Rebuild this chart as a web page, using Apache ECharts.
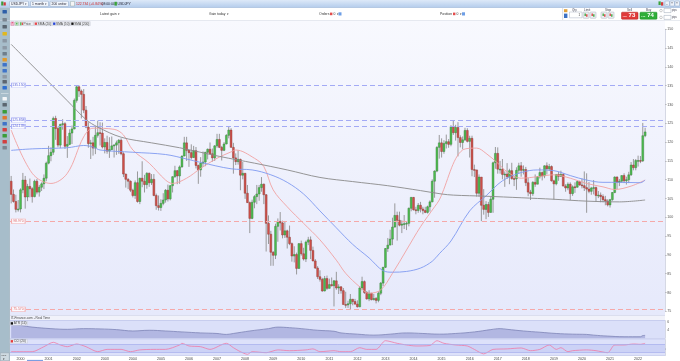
<!DOCTYPE html>
<html><head><meta charset="utf-8">
<script src="https://cdn.jsdelivr.net/npm/echarts/dist/echarts.min.js"></script>
<style>html,body{margin:0;padding:0;background:#fff;overflow:hidden}#c{width:680px;height:361px}</style>
</head><body><div id="c"></div><script>
// ---------- DATA ----------
const firstYear = 1999, firstMonth = 9, monthCount = 280; // Sep 1999 .. Dec 2022 (axis incl. empty space on the right)
const months = [];
for (let i = 0; i < monthCount; i++) {
  const k = firstMonth - 1 + i;
  months.push((firstYear + Math.floor(k / 12)) + '-' + String(k % 12 + 1).padStart(2, '0'));
}
// USD/JPY monthly candles [open, close, low, high], Sep 1999 .. Apr 2022
const candles = [
  [109.6,106.1,103.7,111.0],[106.1,104.2,103.9,107.4],[104.2,102.1,101.3,106.0],[102.1,102.2,101.5,104.6],
  [102.2,107.3,101.3,107.7],[107.3,109.9,106.4,111.8],[109.9,105.4,102.3,111.0],[105.4,108.2,104.3,108.9],[108.2,107.6,105.3,110.3],[107.6,105.5,103.9,108.0],[105.5,109.6,105.3,110.0],[109.6,106.7,106.1,110.2],[106.7,108.0,105.5,108.6],[108.0,108.9,107.0,109.3],[108.9,110.4,107.5,111.4],[110.4,114.4,109.6,114.8],
  [114.4,116.4,114.1,119.0],[116.4,117.3,114.9,118.6],[117.3,126.3,116.6,126.8],[126.3,123.6,120.6,127.0],[123.6,119.2,118.6,124.1],[119.2,124.7,118.4,124.9],[124.7,124.9,123.3,126.1],[124.9,118.9,118.2,125.3],[118.9,119.4,115.8,121.6],[119.4,122.4,119.2,123.4],[122.4,123.5,119.5,124.4],[123.5,131.1,123.4,131.6],
  [131.1,134.7,130.5,135.15],[134.7,133.6,132.0,135.1],[133.6,132.7,126.3,134.0],[132.7,128.5,127.7,134.1],[128.5,124.0,123.7,129.6],[124.0,119.6,118.5,125.3],[119.6,119.8,115.5,120.6],[119.8,118.4,116.4,121.4],[118.4,121.8,116.8,124.2],[121.8,122.5,121.2,125.7],[122.5,122.4,119.1,125.3],[122.4,118.7,118.3,125.2],
  [118.7,119.9,117.0,121.0],[119.9,117.6,116.9,121.7],[117.6,118.0,115.8,121.3],[118.0,119.0,117.9,121.5],[119.0,119.2,115.9,119.5],[119.2,119.8,116.6,120.4],[119.8,120.5,116.9,120.8],[120.5,116.9,116.5,121.0],[116.9,111.5,110.7,117.3],[111.5,110.1,107.9,111.6],[110.1,109.6,107.5,110.4],[109.6,107.2,106.7,109.8],
  [107.2,105.8,105.3,107.6],[105.8,109.2,104.9,109.8],[109.2,104.2,103.9,112.2],[104.2,110.4,103.5,110.5],[110.4,109.6,108.0,114.9],[109.6,108.7,106.6,111.3],[108.7,111.7,107.6,112.0],[111.7,109.2,108.1,111.9],[109.2,110.1,108.6,111.5],[110.1,105.8,105.6,111.5],[105.8,103.1,102.0,106.3],[103.1,102.6,101.8,105.8],
  [102.6,103.7,101.7,104.8],[103.7,104.6,103.2,106.4],[104.6,107.2,103.9,107.5],[107.2,104.9,104.2,108.7],[104.9,108.4,104.5,108.6],[108.4,110.8,106.6,110.9],[110.8,112.4,110.5,113.7],[112.4,111.0,108.8,112.6],[111.0,113.4,108.9,113.8],[113.4,116.3,113.2,116.4],[116.3,119.8,116.2,121.4],[119.8,117.8,115.0,121.4],
  [117.8,117.2,113.4,117.9],[117.2,115.9,115.4,119.4],[115.9,117.7,115.8,119.0],[117.7,113.8,113.0,118.7],[113.8,112.6,108.9,114.0],[112.6,114.4,110.8,116.0],[114.4,114.7,113.4,117.5],[114.7,117.3,113.6,117.4],[117.3,118.1,115.4,118.3],[118.1,116.9,116.7,119.9],[116.9,115.8,114.8,118.3],[115.8,119.0,115.0,119.2],
  [119.0,120.7,118.5,122.2],[120.7,118.6,118.4,122.2],[118.6,117.8,115.1,119.0],[117.8,119.5,117.6,120.0],[119.5,121.8,119.4,122.1],[121.8,123.2,121.0,124.14],[123.2,118.6,118.5,123.7],[118.6,115.8,111.6,119.8],[115.8,114.8,113.9,117.0],[114.8,115.4,114.0,117.8],[115.4,111.2,107.2,115.6],[111.2,111.7,110.1,114.7],
  [111.7,106.4,104.9,111.8],[106.4,103.9,103.8,108.6],[103.9,99.7,95.8,104.2],[99.7,104.0,99.5,104.7],[104.0,105.5,102.4,105.9],[105.5,106.2,103.5,108.6],[106.2,107.9,104.4,108.6],[107.9,108.8,106.8,110.7],[108.8,106.0,103.5,109.0],[106.0,98.4,90.9,106.2],[98.4,95.5,92.9,100.5],[95.5,90.7,87.1,96.4],
  [90.7,89.9,87.1,91.0],[89.9,97.6,88.9,98.3],[97.6,98.9,93.5,99.7],[98.9,98.5,96.5,101.4],[98.5,95.3,94.4,99.1],[95.3,96.4,94.5,98.9],[96.4,94.7,91.7,96.7],[94.7,93.0,92.6,97.8],[93.0,89.7,88.2,93.3],[89.7,90.1,88.0,92.3],[90.1,86.4,84.8,90.6],[86.4,93.0,86.3,93.1],
  [93.0,90.3,89.8,93.8],[90.3,88.9,88.5,91.9],[88.9,93.4,88.1,93.8],[93.4,94.0,92.6,94.8],[94.0,91.2,88.9,94.9],[91.2,88.4,88.3,92.2],[88.4,86.5,86.3,88.9],[86.5,84.2,83.6,87.0],[84.2,83.5,82.9,85.9],[83.5,80.4,80.2,83.9],[80.4,83.7,80.3,84.4],[83.7,81.1,80.7,84.5],
  [81.1,82.1,81.1,83.7],[82.1,81.8,81.6,84.0],[81.8,83.1,76.3,83.3],[83.1,81.2,80.7,85.5],[81.2,81.5,79.6,82.2],[81.5,80.5,79.7,81.7],[80.5,76.8,76.8,81.2],[76.8,76.7,75.9,80.2],[76.7,77.0,75.9,77.8],[77.0,78.2,75.57,79.6],[78.2,77.6,76.6,78.3],[77.6,76.9,76.9,78.3],
  [76.9,76.2,76.0,77.9],[76.2,81.2,76.1,81.7],[81.2,82.9,80.6,84.2],[82.9,80.0,79.6,83.2],[80.0,78.3,78.1,80.4],[78.3,79.8,77.7,80.6],[79.8,78.1,77.9,79.9],[78.1,78.4,77.9,79.6],[78.4,77.9,77.1,78.8],[77.9,79.8,77.4,80.3],[79.8,82.5,79.3,82.8],[82.5,86.7,81.7,86.8],
  [86.7,91.7,86.5,91.8],[91.7,92.6,90.8,94.5],[92.6,94.2,92.6,96.7],[94.2,97.4,92.6,99.9],[97.4,100.5,97.3,103.7],[100.5,99.2,93.8,101.5],[99.2,97.9,97.6,101.5],[97.9,98.2,95.8,99.2],[98.2,98.3,96.9,100.6],[98.3,98.4,96.6,99.0],[98.4,102.4,97.6,102.6],[102.4,105.3,101.6,105.4],
  [105.3,102.0,101.8,105.4],[102.0,101.8,100.8,102.8],[101.8,103.2,101.2,103.8],[103.2,102.2,101.3,104.1],[102.2,101.8,100.8,102.8],[101.8,101.3,101.1,102.8],[101.3,102.8,101.0,103.1],[102.8,104.1,101.5,104.5],[104.1,109.6,104.0,110.1],[109.6,112.3,105.2,112.5],[112.3,118.6,112.0,118.9],[118.6,119.8,115.6,121.9],
  [119.8,117.5,115.9,121.0],[117.5,119.6,116.9,120.5],[119.6,120.1,118.3,122.0],[120.1,119.4,118.5,120.8],[119.4,124.1,118.9,124.5],[124.1,122.5,121.9,125.86],[122.5,123.9,120.4,124.6],[123.9,121.2,116.2,125.3],[121.2,119.9,118.6,121.8],[119.9,120.6,118.1,121.5],[120.6,123.1,120.3,123.8],[123.1,120.2,119.9,123.7],
  [120.2,121.0,115.9,121.7],[121.0,112.7,110.9,121.7],[112.7,112.6,110.7,114.0],[112.6,106.4,105.5,111.9],[106.4,110.7,105.5,111.4],[110.7,103.2,98.97,110.4],[103.2,102.1,100.7,107.5],[102.1,103.4,99.5,104.3],[103.4,101.3,100.1,104.1],[101.3,104.8,101.2,105.5],[104.8,114.5,101.2,114.8],[114.5,117.0,112.9,118.7],
  [117.0,112.8,111.6,118.6],[112.8,112.8,111.6,115.0],[112.8,111.4,110.1,115.5],[111.4,111.5,108.1,112.2],[111.5,110.8,110.2,114.4],[110.8,112.4,108.8,112.9],[112.4,110.3,110.0,114.5],[110.3,110.2,108.3,111.0],[110.2,112.5,107.3,113.3],[112.5,113.7,111.6,114.5],[113.7,112.5,110.8,114.7],[112.5,112.7,111.4,113.8],
  [112.7,109.2,108.3,113.4],[109.2,106.7,105.6,110.5],[106.7,106.3,104.6,107.3],[106.3,109.3,105.7,109.6],[109.3,108.8,108.1,111.4],[108.8,110.8,108.9,110.9],[110.8,111.9,110.3,113.2],[111.9,111.0,109.8,112.2],[111.0,113.7,110.4,113.8],[113.7,112.9,111.4,114.6],[112.9,113.5,112.3,114.2],[113.5,109.7,109.5,113.8],
  [109.7,108.9,104.7,110.0],[108.9,111.4,108.5,111.5],[111.4,110.9,109.7,112.1],[110.9,111.4,110.8,112.4],[111.4,108.3,108.3,111.7],[108.3,107.8,106.8,108.8],[107.8,108.8,107.2,109.3],[108.8,106.3,104.5,109.3],[106.3,108.1,105.7,108.5],[108.1,108.0,106.5,109.3],[108.0,109.5,107.9,109.7],[109.5,108.6,108.4,109.7],
  [108.6,108.4,107.7,110.3],[108.4,107.9,107.0,112.2],[107.9,107.5,101.2,111.7],[107.5,106.9,106.4,109.4],[106.9,107.8,106.0,108.1],[107.8,107.9,106.1,109.9],[107.9,105.8,104.2,108.2],[105.8,105.9,105.1,107.0],[105.9,105.5,104.0,106.6],[105.5,104.7,104.0,106.1],[104.7,104.3,103.2,105.7],[104.3,103.3,102.9,104.8],
  [103.3,104.7,102.6,104.9],[104.7,106.6,104.4,106.7],[106.6,110.7,106.4,110.9],[110.7,109.3,107.5,110.9],[109.3,109.6,108.3,110.2],[109.6,111.1,109.2,111.2],[111.1,109.7,109.1,111.7],[109.7,110.0,108.7,110.8],[110.0,111.3,109.1,112.1],[111.3,113.9,111.0,114.7],[113.9,113.2,112.5,115.5],[113.2,115.1,112.5,115.5],
  [115.1,115.1,113.5,116.4],[115.1,115.0,114.4,116.3],[115.0,121.7,114.7,125.1],[121.7,122.7,121.3,123.8]
];
// moving averages: [monthIndex, value]
const sma20 = [[0,123.2],[9,111.7],[17,109.0],[24,111.7],[31,121.4],[35,123.7],[44,123.4],[48,121.9],[52,117.9],[59,114.4],[66,109.9],[69,109.0],[75,110.4],[81,113.0],[88,115.7],[94,117.4],[96,117.9],[104,115.7],[108,113.5],[112,107.3],[118,102.8],[125,98.4],[132,94.0],[139,88.6],[143,85.1],[149,81.5],[153,79.8],[158,80.7],[163,85.1],[169,91.3],[175,97.5],[181,102.8],[183,104.6],[193,117.9],[199,118.4],[203,117.0],[208,114.4],[212,112.1],[218,110.4],[225,110.8],[232,111.3],[239,110.4],[246,109.0],[253,108.1],[258,107.4],[265,108.3],[271,109.9]];
const sma50 = [[0,117.8],[9,118.2],[24,118.5],[31,119.1],[35,118.7],[38,117.9],[52,117.3],[66,116.7],[75,115.5],[81,114.6],[94,112.9],[103,112.6],[111,111.3],[118,109.3],[125,106.2],[132,101.7],[139,97.2],[146,92.8],[153,89.2],[159,85.8],[163,85.4],[169,85.6],[175,86.5],[180,88.3],[183,90.3],[188,93.7],[196,101.7],[203,105.7],[210,109.7],[218,111.9],[225,112.6],[232,112.4],[239,111.1],[246,109.9],[253,109.3],[260,109.3],[269,109.2],[271,109.9]];
const sma200 = [[0,146.0],[8,141.0],[16,136.0],[24,131.0],[32,126.0],[37,124.0],[47,121.3],[60,119.8],[72,118.5],[89,116.2],[104,114.4],[118,112.6],[132,110.6],[146,109.5],[161,108.4],[175,107.1],[184,106.2],[189,105.9],[203,105.6],[218,105.2],[232,104.8],[246,104.3],[260,104.1],[271,104.6]];
const atr14 = [[0,5.36],[4,5.12],[9,4.72],[17,4.35],[24,4.18],[31,4.35],[38,4.28],[45,4.11],[52,3.78],[59,3.95],[66,3.78],[73,3.55],[81,3.31],[88,3.17],[92,2.94],[95,3.17],[102,3.78],[110,4.35],[114,4.72],[119,4.58],[124,4.35],[131,3.95],[138,3.71],[141,3.31],[148,3.01],[155,2.77],[162,3.01],[169,3.31],[176,3.17],[183,3.01],[190,3.17],[198,3.55],[205,4.11],[209,4.35],[212,4.18],[219,3.78],[226,3.48],[233,3.17],[240,3.01],[246,2.94],[249,2.77],[255,2.54],[262,2.38],[269,2.38],[270,2.66],[271,2.70]];
const cci20 = [[0,-85],[9,-85],[14,40],[18,150],[21,83],[24,40],[28,108],[32,40],[37,-85],[41,-27],[47,-27],[51,-85],[55,-40],[61,-27],[66,-27],[72,83],[73,125],[76,58],[81,40],[85,-27],[92,125],[95,15],[98,-85],[101,-150],[103,-85],[109,-110],[114,-40],[119,-60],[126,-40],[129,-15],[132,-85],[138,-60],[141,-85],[145,-85],[149,15],[152,-27],[156,-27],[160,190],[165,125],[169,83],[173,58],[179,70],[182,190],[185,125],[190,83],[195,58],[198,-27],[202,-140],[206,-27],[212,-15],[218,8],[222,-60],[226,-27],[230,83],[233,-27],[235,15],[238,-85],[240,-60],[246,-40],[250,-60],[255,-110],[258,83],[262,83],[266,108],[269,100],[271,125]];
const resistanceLevels = [135.150, 125.858, 124.139];
const supportLevels = [98.970, 75.570];
const priceTicks = {min: 75, max: 150, step: 5};
const lastValues = {bid: 122.734, mark: 123.65, sma50: 109.902, sma200: 104.604, atr: 2.7716, cci: 120.14};

// ---------- CHART ----------
const FONT = '"Liberation Sans", Arial, sans-serif';
const G = echarts.graphic;
const chart = echarts.init(document.getElementById('c'), null, {renderer: 'canvas'});
const GL = 10, GR = 15;

function renderCandle(params, api) {
  const i = api.value(0), o = api.value(1), c = api.value(2), l = api.value(3), h = api.value(4);
  const pO = api.coord([i, o]), pC = api.coord([i, c]);
  const pL = api.coord([i, Math.min(l, o, c)]), pH = api.coord([i, Math.max(h, o, c)]);
  const w = api.size([1, 0])[0] * 0.8;
  const up = c >= o, x = pO[0];
  const top = Math.min(pO[1], pC[1]), bot = Math.max(pO[1], pC[1]);
  return {type: 'group', children: [
    {type: 'line', shape: {x1: x, y1: pH[1], x2: x, y2: pL[1]}, style: {stroke: '#8e8e8e', lineWidth: 0.9}},
    {type: 'rect', shape: {x: x - w / 2, y: top, width: w, height: Math.max(bot - top, 0.8)},
     style: {fill: up ? '#4cbf4f' : '#d2504a', stroke: up ? '#3a7d3c' : '#8a3a35', lineWidth: 0.45}}
  ]};
}

function lvlLine(v, col) { return {yAxis: v, lineStyle: {color: col, type: [5, 3], width: 1}}; }
function lvlTag(v, col, txtCol) {
  return {coord: [0, v], name: v.toFixed(3), symbol: 'rect', symbolSize: [13.5, 4.6], symbolOffset: [7.2, 0],
    itemStyle: {color: '#fbfbff', borderColor: col, borderWidth: 0.6},
    label: {show: true, position: 'inside', formatter: '{b}', fontSize: 3.4, color: txtCol, fontFamily: FONT}};
}
function endTag(v, text, bg, fg) {
  return {yAxis: v, lineStyle: {opacity: 0}, label: {show: true, position: 'end', distance: 1.2, formatter: text,
    backgroundColor: bg, color: fg, fontSize: 3.6, padding: [0.6, 1], fontFamily: FONT}};
}
const blueL = '#a3aaf5', redL = '#f5a9a9';

function txt(x, y, s, size, fill, extra) {
  return Object.assign({type: 'text', x: x, y: y, z: 100, silent: true,
    style: {text: s, fill: fill || '#333', font: (size || 3.6) + 'px ' + FONT, verticalAlign: 'middle', textVerticalAlign: 'middle'}}, extra || {});
}
function box(x, y, w, h, fill, stroke, z, r) {
  return {type: 'rect', z: z == null ? 100 : z, silent: true, shape: {x: x, y: y, width: w, height: h, r: r || 0},
    style: {fill: fill, stroke: stroke || null, lineWidth: 0.5}};
}
const graphics = [];
// backgrounds
graphics.push(box(GL, 20, 680 - GL - GR, 295, new G.LinearGradient(0, 0, 0, 1, [{offset: 0, color: '#f8f9fe'}, {offset: 1, color: '#e6e9fb'}]), null, -10));
graphics.push(box(GL, 315, 680 - GL - GR, 5, '#f1f2fa', null, -10));
graphics.push(box(GL, 320, 680 - GL - GR, 18.8, '#dbe0f9', null, -10));
graphics.push(box(GL, 338.8, 680 - GL - GR, 16.9, '#dde1fa', null, -10));
graphics.push(box(GL, 315, 655, 0.6, '#c5cae2', null, -9));
graphics.push(box(GL, 320, 655, 0.6, '#b3bae3', null, -9));
graphics.push(box(GL, 338.6, 655, 0.6, '#b9bfe6', null, -9));
graphics.push(box(GL, 355.6, 655, 0.5, '#b9bfe6', null, -9));
// right axis column
graphics.push(box(665, 20, 15, 341, '#ffffff', null, -10));
// top toolbar
graphics.push(box(0, 0, 680, 7.6, new G.LinearGradient(0, 0, 0, 1, [{offset: 0, color: '#dde9f8'}, {offset: 1, color: '#b4ccec'}])));
graphics.push(box(0, 7.4, 680, 0.5, '#8fabd2'));
graphics.push(box(1.2, 1.5, 2.2, 4, '#3c9c3c'), box(3.6, 2.3, 2.2, 3.2, '#d23c3c'));
[[9.5, 19, 'USDJPY'], [30.5, 18, '1 month'], [50, 18.5, '200 units']].forEach(function (b) {
  graphics.push(box(b[0], 1.2, b[1], 5.2, '#f2f6fc', '#8ea6c6', 100, 0.8));
  graphics.push(txt(b[0] + 1.5, 3.9, b[2], 3.4, '#223'));
  graphics.push(txt(b[0] + b[1] - 3.2, 3.9, '▾', 3, '#445'));
});
graphics.push(box(70.5, 1.4, 4, 4.6, '#f5f5f5', '#9aa'));
graphics.push(txt(76, 3.9, '122.734 (+0.84%)', 3.4, '#d02a2a'));
graphics.push(txt(101.5, 3.9, '08:00:04', 3.4, '#223'));
graphics.push(box(114.5, 1.8, 2.4, 3.8, '#3aa33a'));
graphics.push(txt(117.5, 3.9, 'USDJPY', 3.4, '#223'));
graphics.push(box(658.5, 1.4, 2.2, 3.6, '#3aa33a'), box(661, 2.2, 2.2, 3.4, '#d53a3a'));
['_', '□', '×'].forEach(function (s, k) {
  graphics.push(box(665 + k * 5, 1, 4.5, 5, '#eef3fa', '#8ea6c6', 100, 0.6));
  graphics.push(txt(666 + k * 5, 3.6, s, 3.2, '#334'));
});
// second bar (account info)
graphics.push(box(0, 7.9, 680, 12.3, '#ffffff', null, 50));
graphics.push(box(0, 20, 680, 0.5, '#d2d7e2'));
graphics.push(txt(100, 14, 'Latest gain  ▾', 3.4, '#333'));
graphics.push(txt(209, 14, 'Gain today  ▾', 3.4, '#333'));
graphics.push(txt(319, 14, 'Orders', 3.4, '#333'));
graphics.push(box(330, 12.6, 2.4, 2.6, '#e34b4b'), txt(333.4, 14, '0  ▾', 3.4, '#333'));
graphics.push(box(338.5, 12.3, 3, 3.2, '#6d9ee6'));
graphics.push(txt(440, 14, 'Position', 3.4, '#333'));
graphics.push(box(453, 12.6, 2.4, 2.6, '#e34b4b'), txt(456.4, 14, '0  ▾', 3.4, '#333'));
graphics.push(box(462, 12.3, 3, 3.2, '#6d9ee6'));
graphics.push(box(562.5, 8, 0.6, 12, '#c3cad6'));
graphics.push(box(564, 9.2, 3.4, 3, '#e2a23a'), box(564, 13.6, 3.4, 4.4, '#3d72c4'));
graphics.push(txt(572, 10, 'Qty', 3, '#445'));
graphics.push(box(569.5, 12, 12.5, 5.8, '#ffffff', '#aab2c2'), txt(578.6, 15, '1', 3, '#333'));
graphics.push(txt(584, 10, 'Limit', 3, '#445'));
graphics.push(txt(605, 10, 'Stop', 3, '#445'));
[583, 590, 601, 608].forEach(function (x, k) {
  graphics.push(box(x, 12, 6, 6.3, '#eceef2', '#a9b0bc', 100, 0.8));
  graphics.push(box(x + 1.5, 13.5, 1.4, 2.6, k % 2 ? '#d44' : '#4a4'), box(x + 3.1, 14.2, 1.4, 2.6, k % 2 ? '#4a4' : '#d44'));
});
graphics.push(txt(627, 10, 'Sell', 3, '#445'));
graphics.push(box(621.5, 12.2, 16.5, 7, '#e03a3a', '#b02020', 100, 0.8));
graphics.push(txt(622.6, 16.2, '122.', 2.4, '#ffe4e4'), txt(628.6, 15.6, '73', 6, '#ffffff', {style: {text: '73', fill: '#fff', font: 'bold 6px ' + FONT, verticalAlign: 'middle'}}));
graphics.push(txt(646, 10, 'Buy', 3, '#445'));
graphics.push(box(640, 12.2, 17, 7, '#2fae38', '#1d8a25', 100, 0.8));
graphics.push(txt(641.1, 16.2, '122.', 2.4, '#e4ffe4'), txt(647.2, 15.6, '74', 6, '#ffffff', {style: {text: '74', fill: '#fff', font: 'bold 6px ' + FONT, verticalAlign: 'middle'}}));
graphics.push({type: 'circle', z: 100, silent: true, shape: {cx: 661, cy: 10.6, r: 1.3}, style: {fill: '#fff', stroke: '#888', lineWidth: 0.4}});
graphics.push({type: 'circle', z: 100, silent: true, shape: {cx: 661, cy: 17.4, r: 1.3}, style: {fill: '#fff', stroke: '#888', lineWidth: 0.4}});
graphics.push(box(664, 8.6, 7, 4, '#fff', '#9aa4b4'), box(664, 15.4, 7, 4, '#fff', '#9aa4b4'));
graphics.push(txt(672, 10.6, 'pips', 2.6, '#445'), txt(672, 17.4, 'pips', 2.6, '#445'));
// left toolbar
graphics.push(box(0, 7.9, 9.6, 353.1, '#a7bdca', null, 60));
graphics.push(box(9.3, 7.9, 0.5, 353.1, '#8ea4b2', null, 60));
const iconCols = [['#2d5fa8', 10], ['#7a8590', 18], ['#5b6670', 25], ['#e1b81e', 32], ['#8b97a3', 39], ['#8d99a5', 46], ['#6f7f8c', 52], ['#e09a2e', 58], ['#3f74c8', 63], ['#3f74c8', 69], ['#8f9aa5', 75], ['#5d6670', 80], ['#2f6fd0', 86], ['#f4f6f8', 97], ['#5b6670', 103], ['#3a9d3a', 110], ['#e0782e', 116], ['#3f74c8', 122], ['#d24040', 128], ['#3a9d3a', 134], ['#d24040', 140], ['#7a8590', 146]];
iconCols.forEach(function (ic) { graphics.push(box(2.5, ic[1], 4.4, 3.6, ic[0], null, 101, 0.6)); });
graphics.push(box(1, 93, 7.5, 0.5, '#e8eef2', null, 101));
graphics.push(box(0.3, 352.8, 9, 8, '#cfdae1', '#93a3ae', 101));
graphics.push(txt(1.2, 355.2, 'Hour', 2.3, '#333', {z: 102}), txt(3.2, 358.8, '▾', 2.6, '#333', {z: 102}));
// legend row
graphics.push(box(10, 21.3, 80.5, 4.8, '#e1e3ec', null, 90));
graphics.push(box(11, 22, 3, 3.3, '#f4c4cf', '#d7a', 91), txt(11.6, 23.6, '×', 2.8, '#c03', {z: 92}));
graphics.push(box(15.3, 22, 3, 3.3, '#e8f2e8', '#8b8', 91), box(16.2, 22.8, 1.2, 1.7, '#3a3', null, 92));
graphics.push(box(19.3, 21.8, 14, 3.8, '#eef0f5', '#c9ccd6', 91));
graphics.push(box(20.2, 22.3, 1.2, 2.9, '#3fb43f', null, 92), box(21.7, 22.6, 1.2, 2.4, '#d44', null, 92));
graphics.push(txt(23.6, 23.7, 'Price', 3.2, '#444', {z: 92}));
[[34, '#e8474c', 'SMA (20)'], [52.4, '#2746d8', 'SMA (50)'], [70.6, '#111111', 'SMA (200)']].forEach(function (it) {
  graphics.push(box(it[0], 21.8, it[2].length > 8 ? 19.4 : 17.6, 3.8, '#eef0f5', '#c9ccd6', 91));
  graphics.push(box(it[0] + 0.7, 22.5, 2.3, 2.4, it[1], null, 92));
  graphics.push(txt(it[0] + 3.6, 23.7, it[2], 3.2, '#444', {z: 92}));
});
// sub-pane captions
graphics.push(txt(10.8, 317.7, 'IT-Finance.com - Real Time', 3.2, '#444'));
graphics.push(box(10, 321.5, 17.5, 3.8, '#eceef6', '#c6cadb', 90));
graphics.push(box(10.7, 322.2, 2.3, 2.4, '#111', null, 91), txt(13.8, 323.4, 'ATR (14)', 3.2, '#444'));
graphics.push(box(10, 339.4, 17.5, 3.8, '#eceef6', '#c6cadb', 90));
graphics.push(box(10.7, 340.1, 2.3, 2.4, '#e53b3b', null, 91), txt(13.8, 341.3, 'CCI (20)', 3.2, '#444'));
graphics.push(box(27, 359.9, 16, 0.9, '#5a86da'));

const axisCommon = {type: 'category', data: months, boundaryGap: true, axisLine: {show: false}, axisTick: {show: false}, axisLabel: {show: false}, splitLine: {show: false}};

const option = {
  animation: false,
  backgroundColor: '#ffffff',
  grid: [
    {left: GL, right: GR, top: 29.3, height: 282, outerBoundsMode: 'none', containLabel: false},
    {left: GL, right: GR, top: 320.6, height: 17.7, outerBoundsMode: 'none', containLabel: false},
    {left: GL, right: GR, top: 339.5, height: 16, outerBoundsMode: 'none', containLabel: false}
  ],
  xAxis: [
    Object.assign({gridIndex: 0}, axisCommon),
    Object.assign({gridIndex: 1}, axisCommon),
    Object.assign({}, axisCommon, {gridIndex: 2,
      axisTick: {show: true, length: 1.6, lineStyle: {color: '#9aa0b8', width: 0.5}, interval: function (i, v) { return v.slice(5) === '01'; }},
      axisLabel: {show: true, fontSize: 3.6, color: '#444', margin: 1.6, fontFamily: FONT,
        interval: function (i, v) { return v.slice(5) === '01'; }, formatter: function (v) { return v.slice(0, 4); }}})
  ],
  yAxis: [
    {gridIndex: 0, type: 'value', position: 'right', min: priceTicks.min, max: priceTicks.max, interval: priceTicks.step,
     axisLine: {show: true, lineStyle: {color: '#b8bdd2', width: 0.6}}, axisTick: {show: true, length: 1.8, lineStyle: {color: '#999', width: 0.5}},
     axisLabel: {fontSize: 3.6, color: '#555', margin: 2.2, fontFamily: FONT}, splitLine: {show: false}},
    {gridIndex: 1, type: 'value', position: 'right', min: 2, max: 6.3, interval: 2,
     axisLine: {show: true, lineStyle: {color: '#b8bdd2', width: 0.6}}, axisTick: {show: false},
     axisLabel: {fontSize: 3.4, color: '#555', margin: 2.2, showMinLabel: false, fontFamily: FONT}, splitLine: {show: false}},
    {gridIndex: 2, type: 'value', position: 'right', min: -180, max: 220,
     axisLine: {show: true, lineStyle: {color: '#b8bdd2', width: 0.6}}, axisTick: {show: false},
     axisLabel: {show: false}, splitLine: {show: false}}
  ],
  graphic: graphics,
  series: [
    {name: 'Price', type: 'custom', xAxisIndex: 0, yAxisIndex: 0, z: 2,
     data: candles.map(function (r, i) { return [i, r[0], r[1], r[2], r[3]]; }),
     encode: {x: 0, y: [1, 2, 3, 4]}, renderItem: renderCandle,
     markLine: {silent: true, symbol: ['none', 'none'], label: {show: false},
       data: [endTag(lastValues.mark, ' ▪ ', '#e9d23c', '#c22'), endTag(lastValues.bid, lastValues.bid.toFixed(3), '#5cc25c', '#fff')]}},
    {name: 'SMA (20)', type: 'line', xAxisIndex: 0, yAxisIndex: 0, z: 3, data: sma20, smooth: 0.35, showSymbol: false, symbol: 'none',
     lineStyle: {color: '#f1a2a2', width: 0.9}},
    {name: 'SMA (50)', type: 'line', xAxisIndex: 0, yAxisIndex: 0, z: 3, data: sma50, smooth: 0.35, showSymbol: false, symbol: 'none',
     lineStyle: {color: '#7f9af0', width: 0.9},
     markLine: {silent: true, symbol: ['none', 'none'], data: [endTag(lastValues.sma50, lastValues.sma50.toFixed(3), '#c7d1f8', '#2f4fc4')]}},
    {name: 'SMA (200)', type: 'line', xAxisIndex: 0, yAxisIndex: 0, z: 3, data: sma200, smooth: 0.35, showSymbol: false, symbol: 'none',
     lineStyle: {color: '#8a8a8a', width: 0.9},
     markLine: {silent: true, symbol: ['none', 'none'], label: {show: false},
       data: resistanceLevels.map(function (v) { return lvlLine(v, blueL); }).concat(supportLevels.map(function (v) { return lvlLine(v, redL); }))
         .concat([endTag(lastValues.sma200, lastValues.sma200.toFixed(3), '#d6d8e0', '#444')])},
     markPoint: {silent: true, data: resistanceLevels.map(function (v) { return lvlTag(v, blueL, '#5a64d8'); })
       .concat(supportLevels.map(function (v) { return lvlTag(v, redL, '#e06a6a'); }))}},
    {name: 'ATR (14)', type: 'line', xAxisIndex: 1, yAxisIndex: 1, data: atr14, smooth: 0.4, showSymbol: false, symbol: 'none',
     lineStyle: {color: '#7d84b6', width: 0.8}, areaStyle: {color: '#b2b7e2', origin: 'start', opacity: 1},
     markLine: {silent: true, symbol: ['none', 'none'], data: [endTag(lastValues.atr, lastValues.atr.toFixed(4), '#8e93b8', '#fff')]}},
    {name: 'CCI (20)', type: 'line', xAxisIndex: 2, yAxisIndex: 2, data: cci20, smooth: 0.25, showSymbol: false, symbol: 'none',
     lineStyle: {color: '#f07aa6', width: 0.8},
     markArea: {silent: true, itemStyle: {color: '#ccd2f6'}, data: [[{yAxis: -100}, {yAxis: 100}]]},
     markLine: {silent: true, symbol: ['none', 'none'],
       data: [{yAxis: 100, lineStyle: {color: '#a6aeec', width: 0.7, type: 'solid'}, label: {show: false}},
              {yAxis: -100, lineStyle: {color: '#a6aeec', width: 0.7, type: 'solid'}, label: {show: false}},
              endTag(0, '0', 'rgba(0,0,0,0)', '#555'),
              endTag(lastValues.cci, lastValues.cci.toFixed(2), '#f5b3c8', '#c02050')]}}
  ]
};
chart.setOption(option);
</script></body></html>
